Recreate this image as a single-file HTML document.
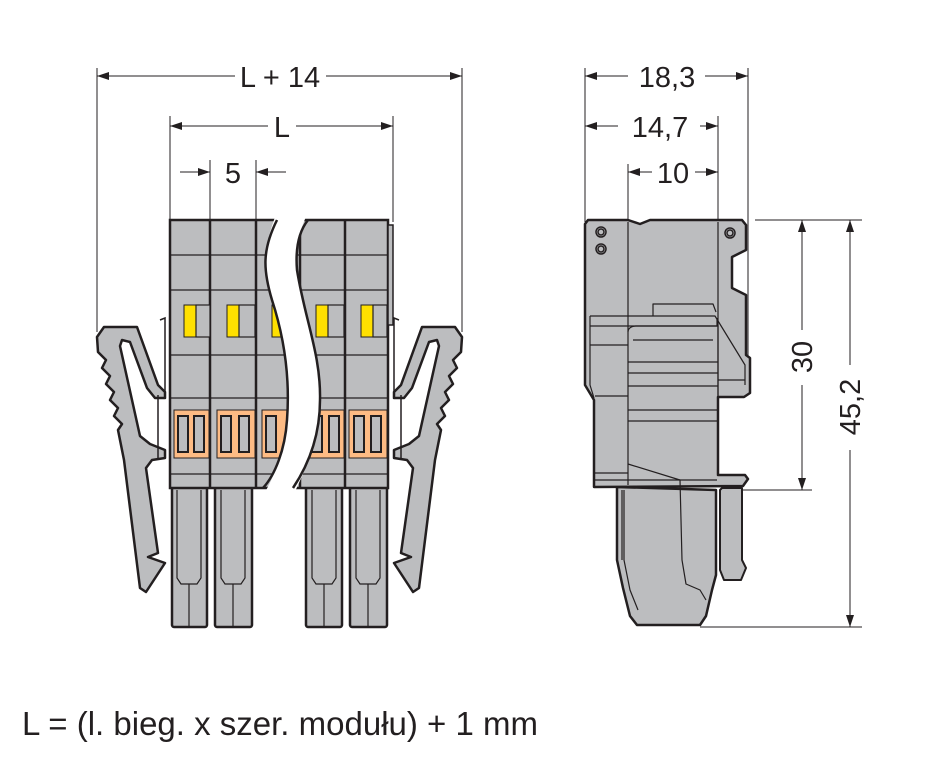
<!DOCTYPE html>
<html><head><meta charset="utf-8"><style>
html,body{margin:0;padding:0;background:#fff;}
svg{display:block;}
text{font-family:"Liberation Sans Narrow","Liberation Sans",sans-serif;fill:#231f20;}
</style></head><body>
<svg width="926" height="769" viewBox="0 0 926 769" xmlns="http://www.w3.org/2000/svg">
<defs>
<marker id="a" viewBox="0 0 12 8" refX="12" refY="4" markerWidth="12" markerHeight="8" orient="auto-start-reverse" markerUnits="userSpaceOnUse"><path d="M0,0 L12,4 L0,8 Z" fill="#231f20"/></marker>
<g id="clip">
<path d="M97,337 L104,327 L137,327 L158,385 L165,392 L165,398 L155,398 L147,388 L130,342 L122,340 L120,346 L140,436 L150,444 L165,450 L165,458 L152,460 L146,468 L158,553 L148,557 L165,563 L146,592 L140,588 L124,460 L118,430 L122,424 L114,416 L118,408 L110,400 L114,392 L106,384 L110,376 L102,368 L106,360 L98,352 Z" fill="#bcbdbf" stroke="#231f20" stroke-width="2.5" stroke-linejoin="round"/>
<path d="M160,320 L165,318 L165,392 M158,395 L158,460" fill="none" stroke="#231f20" stroke-width="1.5"/>
</g>
</defs>
<g stroke="#231f20" stroke-width="1" fill="none">
<!-- dimension extension lines left -->
<line x1="97" y1="68" x2="97" y2="332"/>
<line x1="462" y1="68" x2="462" y2="332"/>
<line x1="170" y1="116" x2="170" y2="222"/>
<line x1="393" y1="116" x2="393" y2="222"/>
<line x1="210" y1="160" x2="210" y2="222"/>
<line x1="256" y1="160" x2="256" y2="222"/>
<line x1="97" y1="76" x2="235" y2="76" marker-start="url(#a)"/>
<line x1="326" y1="76" x2="462" y2="76" marker-end="url(#a)"/>
<line x1="170" y1="126" x2="268" y2="126" marker-start="url(#a)"/>
<line x1="296" y1="126" x2="393" y2="126" marker-end="url(#a)"/>
<line x1="180" y1="172" x2="210" y2="172" marker-end="url(#a)"/>
<line x1="286" y1="172" x2="256" y2="172" marker-end="url(#a)"/>
<!-- right dims -->
<line x1="585" y1="68" x2="585" y2="222"/>
<line x1="748" y1="68" x2="748" y2="360"/>
<line x1="718" y1="116" x2="718" y2="222"/>
<line x1="628" y1="164" x2="628" y2="222"/>
<line x1="585" y1="76" x2="628" y2="76" marker-start="url(#a)"/>
<line x1="705" y1="76" x2="748" y2="76" marker-end="url(#a)"/>
<line x1="585" y1="126" x2="618" y2="126" marker-start="url(#a)"/>
<line x1="700" y1="126" x2="718" y2="126" marker-end="url(#a)"/>
<line x1="652" y1="172" x2="628" y2="172" marker-end="url(#a)"/>
<line x1="695" y1="172" x2="718" y2="172" marker-end="url(#a)"/>
<line x1="755" y1="220" x2="862" y2="220"/>
<line x1="735" y1="490" x2="812" y2="490"/>
<line x1="700" y1="627" x2="862" y2="627"/>
<line x1="802" y1="220" x2="802" y2="330" marker-start="url(#a)"/>
<line x1="802" y1="385" x2="802" y2="490" marker-end="url(#a)"/>
<line x1="850" y1="220" x2="850" y2="365" marker-start="url(#a)"/>
<line x1="850" y1="450" x2="850" y2="627" marker-end="url(#a)"/>
</g>
<g font-size="29">
<text x="280" y="87" text-anchor="middle">L + 14</text>
<text x="282" y="137" text-anchor="middle">L</text>
<text x="233" y="183" text-anchor="middle">5</text>
<text x="667" y="87" text-anchor="middle">18,3</text>
<text x="660" y="137" text-anchor="middle">14,7</text>
<text x="673" y="183" text-anchor="middle">10</text>
<text transform="translate(812,357) rotate(-90)" text-anchor="middle">30</text>
<text transform="translate(860,407) rotate(-90)" text-anchor="middle">45,2</text>
<text x="22" y="735" font-size="33">L = (l. bieg. x szer. modułu) + 1 mm</text>
</g>

<!-- clips -->
<use href="#clip"/>
<use href="#clip" transform="translate(559,0) scale(-1,1)"/>

<!-- pins -->
<g fill="#bcbdbf" stroke="#231f20" stroke-width="2.5">
<rect x="172" y="486" width="35" height="141" rx="2"/>
<rect x="215" y="486" width="37" height="141" rx="2"/>
<rect x="306" y="486" width="36" height="141" rx="2"/>
<rect x="350" y="486" width="37" height="141" rx="2"/>
</g>
<g fill="none" stroke="#231f20" stroke-width="1.2">
<path d="M177,490 L177,578 L181,584 L197,584 L201,578 L201,490 M189,584 L189,627"/>
<path d="M221,490 L221,578 L225,584 L241,584 L245,578 L245,490 M233,584 L233,627"/>
<path d="M312,490 L312,578 L316,584 L332,584 L336,578 L336,490 M324,584 L324,627"/>
<path d="M356,490 L356,578 L360,584 L376,584 L380,578 L380,490 M368,584 L368,627"/>
</g>

<!-- body -->
<rect x="170" y="220" width="218" height="268" fill="#bcbdbf" stroke="#231f20" stroke-width="2.5"/>
<rect x="388" y="225" width="5" height="100" fill="#bcbdbf" stroke="#231f20" stroke-width="1.5"/>
<g stroke="#231f20" stroke-width="1.3" fill="none">
<line x1="170" y1="255" x2="388" y2="255"/>
<line x1="170" y1="290" x2="388" y2="290"/>
<line x1="170" y1="355" x2="388" y2="355"/>
<line x1="170" y1="398" x2="388" y2="398"/>
<line x1="170" y1="474" x2="388" y2="474"/>
</g>
<g stroke="#231f20" stroke-width="2.5">
<line x1="210" y1="220" x2="210" y2="488"/>
<line x1="256" y1="220" x2="256" y2="488"/>
<line x1="300" y1="220" x2="300" y2="488"/>
<line x1="345" y1="220" x2="345" y2="488"/>
</g>
<!-- yellow + orange per module -->
<g>
<g transform="translate(170,0)">
<rect x="14" y="305" width="12" height="32" fill="#ffe000" stroke="#231f20" stroke-width="1"/>
<rect x="26" y="305" width="14" height="32" fill="#bcbdbf" stroke="#231f20" stroke-width="1.2"/>
<rect x="4" y="410" width="35" height="48" fill="#fdbb84" stroke="#231f20" stroke-width="1"/>
<rect x="8" y="416" width="10" height="36" fill="#bcbdbf" stroke="#231f20" stroke-width="2"/>
<rect x="24" y="416" width="10" height="36" fill="#bcbdbf" stroke="#231f20" stroke-width="2"/>
</g>
<g transform="translate(213,0)">
<rect x="14" y="305" width="12" height="32" fill="#ffe000" stroke="#231f20" stroke-width="1"/>
<rect x="26" y="305" width="16" height="32" fill="#bcbdbf" stroke="#231f20" stroke-width="1.2"/>
<rect x="4" y="410" width="38" height="48" fill="#fdbb84" stroke="#231f20" stroke-width="1"/>
<rect x="8" y="416" width="10" height="36" fill="#bcbdbf" stroke="#231f20" stroke-width="2"/>
<rect x="26" y="416" width="10" height="36" fill="#bcbdbf" stroke="#231f20" stroke-width="2"/>
</g>
<g transform="translate(258,0)">
<rect x="14" y="305" width="12" height="32" fill="#ffe000" stroke="#231f20" stroke-width="1"/>
<rect x="4" y="410" width="38" height="48" fill="#fdbb84" stroke="#231f20" stroke-width="1"/>
<rect x="8" y="416" width="10" height="36" fill="#bcbdbf" stroke="#231f20" stroke-width="2"/>
</g>
<g transform="translate(302,0)">
<rect x="14" y="305" width="12" height="32" fill="#ffe000" stroke="#231f20" stroke-width="1"/>
<rect x="26" y="305" width="16" height="32" fill="#bcbdbf" stroke="#231f20" stroke-width="1.2"/>
<rect x="0" y="410" width="42" height="48" fill="#fdbb84" stroke="#231f20" stroke-width="1"/>
<rect x="10" y="416" width="10" height="36" fill="#bcbdbf" stroke="#231f20" stroke-width="2"/>
<rect x="27" y="416" width="10" height="36" fill="#bcbdbf" stroke="#231f20" stroke-width="2"/>
</g>
<g transform="translate(347,0)">
<rect x="14" y="305" width="12" height="32" fill="#ffe000" stroke="#231f20" stroke-width="1"/>
<rect x="26" y="305" width="14" height="32" fill="#bcbdbf" stroke="#231f20" stroke-width="1.2"/>
<rect x="2" y="410" width="38" height="48" fill="#fdbb84" stroke="#231f20" stroke-width="1"/>
<rect x="7" y="416" width="10" height="36" fill="#bcbdbf" stroke="#231f20" stroke-width="2"/>
<rect x="24" y="416" width="10" height="36" fill="#bcbdbf" stroke="#231f20" stroke-width="2"/>
</g>
</g>
<!-- wave gap -->
<path d="M277,212 C262,250 263,270 272,300 C285,340 290,380 287,420 C285,450 275,475 263,496 L293,496 C305,470 320,440 320,400 C321,355 305,320 297,270 C295,245 300,230 308,212 Z" fill="#fff"/>
<g fill="none" stroke="#231f20" stroke-width="2.5">
<path d="M277,220 C262,250 263,270 272,300 C285,340 290,380 287,420 C285,450 275,475 263,488"/>
<path d="M308,220 C300,230 295,245 297,270 C305,320 321,355 320,400 C320,440 305,470 293,488"/>
</g>

<!-- side view -->
<g stroke="#231f20" stroke-linejoin="round">
<path d="M617,487 L617,560 L623,588 L630,616 L637,625 L700,625 L706,616 L712,590 L716,575 L716,490 Z" fill="#bcbdbf" stroke-width="2.5"/>
<path d="M722,488 L742,488 L742,560 L746,568 L741,580 L724,580 L720,570 L720,490 Z" fill="#bcbdbf" stroke-width="2"/>
<path d="M588,220 L628,220 L640,224 L650,220 L742,220 L746,225 L746,250 L732,257 L732,288 L746,295 L746,355 L750,358 L750,393 L744,397 L718,397 L718,475 L745,475 L748,479 L743,486 L594,487 L594,400 L585,385 L585,224 Z" fill="#bcbdbf" stroke-width="2.5"/>
<g fill="none" stroke-width="1.2">
<line x1="628" y1="222" x2="628" y2="485"/>
<line x1="718" y1="222" x2="718" y2="397"/>
<path d="M590,316 L715,316 L745,365 L745,385 M590,316 L590,385 L594,398"/>
<path d="M653,316 L653,304 L713,304 L716,312"/>
<path d="M590,326 L717,326 L717,318"/>
<path d="M590,345 L628,345 M595,396 L628,396 M595,473 L628,473 M595,480 L717,480"/>
<path d="M628,332 C628,328 632,326 636,326 L718,326 L718,470 M633,340 L713,340 M628,362 L718,362 M628,373 L718,373 M628,386 L718,386 M628,410 L718,410 M628,421 L718,421 M628,464 L680,480 L682,560 L686,584 L700,590 L706,600"/>
<path d="M624,490 L624,560 L630,590 L638,610 M622,490 L622,560"/>
<path d="M718,380 L745,380"/>
</g>
<g fill="none" stroke-width="1.5">
<circle cx="601" cy="232" r="5"/><circle cx="601" cy="232" r="3"/>
<circle cx="601" cy="249" r="5"/><circle cx="601" cy="249" r="3"/>
<circle cx="730" cy="233" r="5"/><circle cx="730" cy="233" r="3"/>
</g>
</g>
</svg>
</body></html>
